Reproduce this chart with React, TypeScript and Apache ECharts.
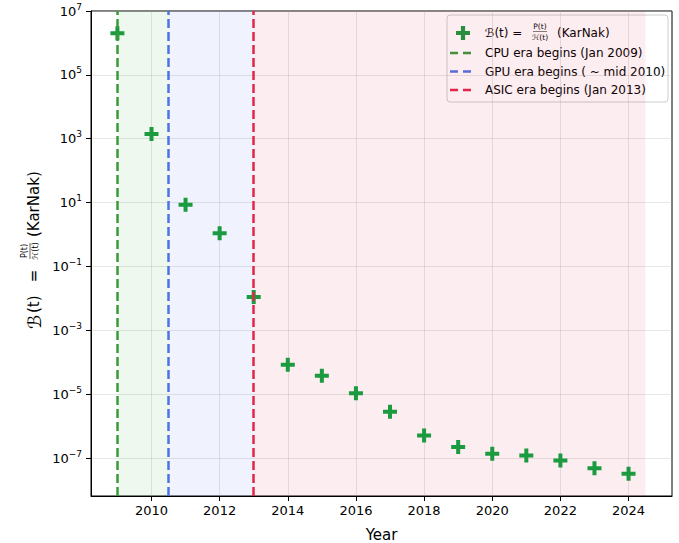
import React, { useEffect, useRef } from 'react';
import * as echarts from 'echarts';

// ---------------- data ----------------
const years = [2009, 2010, 2011, 2012, 2013, 2014, 2015, 2016, 2017, 2018, 2019, 2020, 2021, 2022, 2023, 2024];
const ratioValues = [2.0e6, 1.4e3, 8.5, 1.1, 1.1e-2, 8.3e-5, 3.8e-5, 1.07e-5, 2.8e-6, 5.1e-7, 2.2e-7, 1.35e-7, 1.2e-7, 8.3e-8, 4.8e-8, 3.2e-8];
const xTickValues = [2010, 2012, 2014, 2016, 2018, 2020, 2022, 2024];
const yTickExponents = [-7, -5, -3, -1, 1, 3, 5, 7];
const eraStarts = [2009, 2010.5, 2013];
const eraEnd = 2024.5;
const eraNames = ['CPU era begins (Jan 2009)', 'GPU era begins ( ~ mid 2010)', 'ASIC era begins (Jan 2013)'];
const eraColors = ['#3a9a3a', '#4d73e3', '#e3264a'];
const eraFills = ['rgba(44,160,44,0.08)', 'rgba(65,105,225,0.08)', 'rgba(220,20,60,0.08)'];

const FONT = 'DejaVu Sans';
const MARKER = '#1b9a3f';
const PLUS = 'path://M5,0H9V5H14V9H9V14H5V9H0V5H5Z';

const SUP: Record<string, string> = { '-': '\u2212' };

function expText(v: number) {
  const e = Math.round(Math.log10(v));
  const s = String(e).split('').map((c) => SUP[c] || c).join('');
  return `{b|10}{s|${s}}`;
}

function plusPoints(cx: number, cy: number, size: number, t: number) {
  const h = size / 2;
  const a = t / 2;
  return [
    [cx - a, cy - h], [cx + a, cy - h], [cx + a, cy - a], [cx + h, cy - a], [cx + h, cy + a], [cx + a, cy + a],
    [cx + a, cy + h], [cx - a, cy + h], [cx - a, cy + a], [cx - h, cy + a], [cx - h, cy - a], [cx - a, cy - a],
  ];
}

export default function App() {
  const ref = useRef<HTMLDivElement>(null);

  useEffect(() => {
    if (!ref.current) return;
    const chart = echarts.init(ref.current, undefined, { renderer: 'svg' });
    const yTickValues = yTickExponents.map((e) => Math.pow(10, e));
    const gridColor = 'rgba(176,176,176,0.3)';

    const legendX = 447;
    const legendY = 15;
    const rows = [53, 71.5, 90];

    const option: any = {
      animation: false,
      textStyle: { fontFamily: FONT },
      grid: { left: 91, right: 7, top: 11, bottom: 47, show: true, borderColor: '#000', borderWidth: 1, backgroundColor: 'transparent', outerBoundsMode: 'none' },
      xAxis: {
        type: 'value',
        min: 2008.225,
        max: 2025.275,
        name: 'Year',
        nameLocation: 'middle',
        nameGap: 31,
        nameTextStyle: { fontSize: 15, color: '#000', fontFamily: FONT },
        axisLine: { show: true, onZero: false, lineStyle: { color: '#000', width: 1 } },
        axisTick: { show: true, length: 5, customValues: xTickValues, lineStyle: { color: '#000' } },
        axisLabel: { customValues: xTickValues, formatter: (v: number) => String(Math.round(v)), fontSize: 13, color: '#000', margin: 8, fontFamily: FONT },
        splitLine: { show: true, lineStyle: { color: gridColor, width: 1 } },
      },
      yAxis: {
        type: 'log',
        logBase: 10,
        min: Math.pow(10, -8.19),
        max: 1e7,
        axisLine: { show: true, onZero: false, lineStyle: { color: '#000', width: 1 } },
        axisTick: { show: true, length: 5, customValues: yTickValues, lineStyle: { color: '#000' } },
        axisLabel: {
          customValues: yTickValues,
          formatter: (v: number) => expText(v),
          margin: 9,
          color: '#000',
          fontFamily: FONT,
          rich: {
            b: { fontSize: 13, color: '#000', fontFamily: FONT },
            s: { fontSize: 9, color: '#000', fontFamily: FONT, padding: [0, 0, 9, 0] },
          },
        },
        splitLine: { show: true, lineStyle: { color: gridColor, width: 1 } },
        minorTick: { show: false },
      },
      series: [
        {
          type: 'scatter',
          z: 1,
          data: [],
          silent: true,
          markArea: {
            silent: true,
            data: eraStarts.map((s, i) => [
              { xAxis: s, itemStyle: { color: eraFills[i] } },
              { xAxis: i < eraStarts.length - 1 ? eraStarts[i + 1] : eraEnd },
            ]),
          },
          markLine: {
            silent: true,
            symbol: ['none', 'none'],
            label: { show: false },
            data: eraStarts.map((s, i) => ({
              xAxis: s,
              lineStyle: { color: eraColors[i], width: 2.5, type: [9, 4] },
            })),
          },
        },
        {
          type: 'scatter',
          z: 3,
          symbol: PLUS,
          symbolSize: 14,
          itemStyle: { color: MARKER, opacity: 1 },
          data: years.map((y, i) => [y, ratioValues[i]]),
        },
      ],
      graphic: [
        // y-axis label
        {
          type: 'group',
          x: 34,
          y: 249,
          rotation: Math.PI / 2,
          children: [
            { type: 'text', x: -80, y: 0, style: { text: '\u212C', fontSize: 18, fontFamily: FONT, fill: '#000', align: 'left', verticalAlign: 'middle' } },
            { type: 'text', x: -64, y: 0, style: { text: '(t)', fontSize: 15, fontFamily: FONT, fill: '#000', align: 'left', verticalAlign: 'middle' } },
            { type: 'text', x: -27, y: 0, style: { text: '=', fontSize: 15, fontFamily: FONT, fill: '#000', align: 'center', verticalAlign: 'middle' } },
            { type: 'text', x: -2, y: -9.5, style: { text: 'P(t)', fontSize: 8, fontFamily: FONT, fill: '#000', align: 'center', verticalAlign: 'middle' } },
            { type: 'line', shape: { x1: -10, y1: -4, x2: 6, y2: -4 }, style: { stroke: '#000', lineWidth: 0.6 } },
            { type: 'text', x: -2, y: 1.5, style: { text: '\u210B(t)', fontSize: 8, fontFamily: FONT, fill: '#000', align: 'center', verticalAlign: 'middle' } },
            { type: 'text', x: 12, y: 0, style: { text: '(KarNak)', fontSize: 15, fontFamily: FONT, fill: '#000', align: 'left', verticalAlign: 'middle' } },
          ],
        },
        // legend
        {
          type: 'group',
          z: 100,
          children: [
            { type: 'rect', shape: { x: legendX, y: legendY, width: 221, height: 87, r: 3 }, style: { fill: 'rgba(255,255,255,0.85)', stroke: '#cccccc', lineWidth: 1 } },
            { type: 'polygon', shape: { points: plusPoints(463, 33, 14, 4.2) }, style: { fill: MARKER } },
            { type: 'text', x: 485, y: 33, style: { text: '\u212C(t) = ', fontSize: 12, fontFamily: FONT, fill: '#000', align: 'left', verticalAlign: 'middle' } },
            { type: 'text', x: 540, y: 26.5, style: { text: 'P(t)', fontSize: 7.5, fontFamily: FONT, fill: '#000', align: 'center', verticalAlign: 'middle' } },
            { type: 'line', shape: { x1: 533, y1: 31.5, x2: 547, y2: 31.5 }, style: { stroke: '#000', lineWidth: 0.5 } },
            { type: 'text', x: 540, y: 37, style: { text: '\u210B(t)', fontSize: 7.5, fontFamily: FONT, fill: '#000', align: 'center', verticalAlign: 'middle' } },
            { type: 'text', x: 557, y: 33, style: { text: '(KarNak)', fontSize: 12, fontFamily: FONT, fill: '#000', align: 'left', verticalAlign: 'middle' } },
            ...eraNames.flatMap((name, i) => [
              { type: 'line', shape: { x1: 450, y1: rows[i], x2: 476, y2: rows[i] }, style: { stroke: eraColors[i], lineWidth: 2.5, lineDash: [8, 5] } },
              { type: 'text', x: 485, y: rows[i], style: { text: name, fontSize: 12, fontFamily: FONT, fill: '#000', align: 'left', verticalAlign: 'middle' } },
            ]),
          ],
        },
      ],
    };

    chart.setOption(option);
    return () => chart.dispose();
  }, []);

  return <div ref={ref} style={{ width: 679, height: 543, position: 'absolute', left: 0, top: 0 }} />;
}
